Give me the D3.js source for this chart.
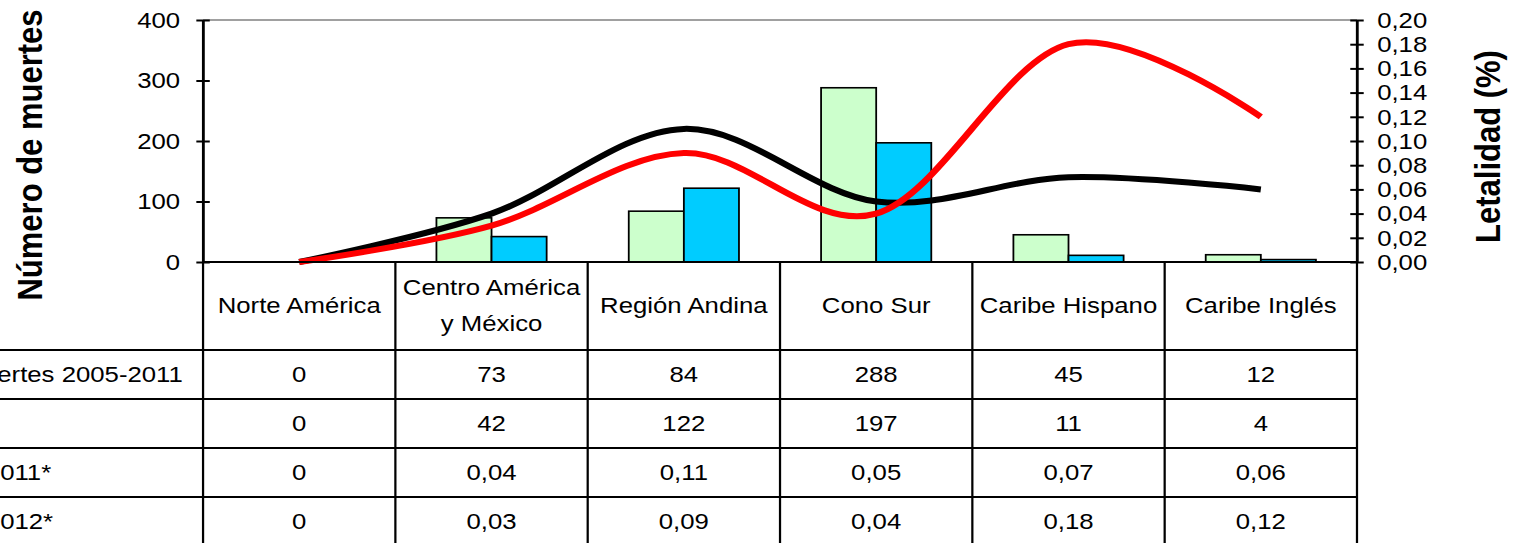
<!DOCTYPE html>
<html>
<head>
<meta charset="utf-8">
<script src="https://cdn.jsdelivr.net/npm/d3@7"></script>
<style>
  body { margin: 0; background: #fff; }
  svg { display: block; }
  text { font-family: "Liberation Sans", Arial, sans-serif; fill: #000; }
</style>
</head>
<body>
<svg id="chart"></svg>
<script>
// data
const regions = ["Norte América", "Centro América\ny México", "Región Andina", "Cono Sur", "Caribe Hispano", "Caribe Inglés"];
const muertes0511 = [0, 73, 84, 288, 45, 12];
const muertes2012 = [0, 42, 122, 197, 11, 4];
const letalidad2011 = [0, 0.04, 0.11, 0.05, 0.07, 0.06];
const letalidad2012 = [0, 0.03, 0.09, 0.04, 0.18, 0.12];
const rowLabels = ["Número de muertes 2005-2011", "Muertes 2012", "Letalidad (%) 2011*", "Letalidad (%) 2012*"];
const leftTicks = [0, 100, 200, 300, 400];
const rightTicks = [0, 0.02, 0.04, 0.06, 0.08, 0.10, 0.12, 0.14, 0.16, 0.18, 0.20];

class ComboTable {
    // the original is a bit wider than it is tall, so draw in a squeezed box and stretch
    sx = 1.12;
    margin = { top: 20, left: 181.3 };

    constructor(svg, width = 1514, height = 543) {
        this.svg = svg;
        this.width = width;
        this.height = height;
        this.plotW = 1211.6 - this.margin.left;
        this.plotH = 242;
    }

    initialize() {
        this.svg = d3.select(this.svg)
            .attr("width", this.width)
            .attr("height", this.height)
            .attr("viewBox", `0 0 ${this.width / this.sx} ${this.height}`)
            .attr("preserveAspectRatio", "none");

        this.container = this.svg.append("g")
            .attr("transform", `translate(${this.margin.left}, ${this.margin.top})`);

        this.xScale = d3.scaleBand().domain(regions).range([0, this.plotW]);
        this.subScale = d3.scaleBand().domain([0, 1]).range([0, this.xScale.bandwidth()])
            .paddingInner(0).paddingOuter(0.745);
        this.yScale = d3.scaleLinear().domain([0, 400]).range([this.plotH, 0]);
        this.y2Scale = d3.scaleLinear().domain([0, 0.2]).range([this.plotH, 0]);
    }

    fmt(v) {
        return v === 0 ? "0" : d3.format(".2f")(v).replace(".", ",");
    }

    update() {
        const g = this.container;

        // grey top border of the plot area
        g.append("line")
            .attr("x1", 0).attr("x2", this.plotW)
            .attr("y1", 0).attr("y2", 0)
            .attr("stroke", "#808080").attr("stroke-width", 1.5);

        // bars
        const series = [
            { values: muertes0511, fill: "#ccffcc" },
            { values: muertes2012, fill: "#00ccff" }
        ];
        series.forEach((s, i) => {
            g.append("g").selectAll("rect")
                .data(s.values)
                .join("rect")
                .attr("x", (d, j) => this.xScale(regions[j]) + this.subScale(i))
                .attr("y", d => this.yScale(d))
                .attr("width", this.subScale.bandwidth())
                .attr("height", d => this.plotH - this.yScale(d))
                .attr("fill", s.fill)
                .attr("stroke", "#000")
                .attr("stroke-width", 1.6);
        });

        // smoothed lines on the right axis
        const line = d3.line()
            .x((d, j) => this.xScale(regions[j]) + this.xScale.bandwidth() / 2)
            .y(d => this.y2Scale(d))
            .curve(d3.curveCardinal.tension(0));

        [[letalidad2011, "#000"], [letalidad2012, "#ff0000"]].forEach(([vals, col]) => {
            g.append("path")
                .datum(vals)
                .attr("d", line)
                .attr("fill", "none")
                .attr("stroke", col)
                .attr("stroke-width", 6)
                .attr("stroke-linejoin", "round");
        });

        // left axis, crossing ticks
        const yAxis = g.append("g")
            .call(d3.axisLeft(this.yScale).tickValues(leftTicks).tickSizeOuter(0).tickSizeInner(6).tickPadding(14.5));
        yAxis.select(".domain").attr("stroke-width", 2);
        yAxis.selectAll(".tick line").attr("x2", -6).attr("x1", 6).attr("stroke-width", 2);
        yAxis.selectAll(".tick text").attr("font-size", 23).attr("font-family", null);

        // right axis
        const y2Axis = g.append("g")
            .attr("transform", `translate(${this.plotW}, 0)`)
            .call(d3.axisRight(this.y2Scale).tickValues(rightTicks).tickFormat(d => d3.format(".2f")(d).replace(".", ","))
                .tickSizeOuter(0).tickSizeInner(6).tickPadding(12));
        y2Axis.select(".domain").attr("stroke-width", 2);
        y2Axis.selectAll(".tick line").attr("x1", -6).attr("x2", 6).attr("stroke-width", 2);
        y2Axis.selectAll(".tick text").attr("font-size", 23).attr("font-family", null);

        // axis titles
        this.svg.append("text")
            .attr("transform", `translate(37.5, 155) rotate(-90)`)
            .attr("text-anchor", "middle")
            .attr("font-size", 31).attr("font-weight", "bold")
            .text("Número de muertes");
        this.svg.append("text")
            .attr("transform", `translate(1339, 146.5) rotate(-90)`)
            .attr("text-anchor", "middle")
            .attr("font-size", 31).attr("font-weight", "bold")
            .text("Letalidad (%)");

        this.drawTable();
    }

    drawTable() {
        const g = this.container;
        const top = this.plotH;             // x axis = top of the table
        const headH = 88;
        const rowY = d3.scaleBand().domain(rowLabels).range([top + headH, top + headH + 49 * rowLabels.length]);
        const bottom = top + headH + 49 * rowLabels.length;
        const lines = g.append("g").attr("stroke", "#000").attr("stroke-width", 2);

        // x axis line / header top
        lines.append("line").attr("x1", 0).attr("x2", this.plotW).attr("y1", top).attr("y2", top);
        // row lines run out under the row labels
        rowLabels.forEach(r => {
            lines.append("line")
                .attr("x1", -this.margin.left - 10).attr("x2", this.plotW)
                .attr("y1", rowY(r)).attr("y2", rowY(r));
        });
        // column lines
        regions.concat(["end"]).forEach((r, i) => {
            const x = i < regions.length ? this.xScale(r) : this.plotW;
            lines.append("line")
                .attr("x1", x).attr("x2", x)
                .attr("y1", i === 0 || i === regions.length ? 0 : top)
                .attr("y2", bottom);
        });

        // header
        regions.forEach(r => {
            const parts = r.split("\n");
            const cx = this.xScale(r) + this.xScale.bandwidth() / 2;
            const t = g.append("text")
                .attr("text-anchor", "middle")
                .attr("font-size", 23)
                .attr("x", cx)
                .attr("y", parts.length === 1 ? top + 51 : top + 33);
            parts.forEach((p, k) => {
                t.append("tspan").attr("x", cx).attr("dy", k === 0 ? 0 : 36).text(p);
            });
        });

        // body
        const rows = [muertes0511, muertes2012, letalidad2011, letalidad2012];
        rows.forEach((vals, i) => {
            const cy = rowY(rowLabels[i]) + rowY.bandwidth() / 2 + 8;
            g.append("text")
                .attr("x", -335.8)
                .attr("y", cy)
                .attr("font-size", 23)
                .text(rowLabels[i]);
            g.append("g").selectAll("text")
                .data(vals)
                .join("text")
                .attr("x", (d, j) => this.xScale(regions[j]) + this.xScale.bandwidth() / 2)
                .attr("y", cy)
                .attr("text-anchor", "middle")
                .attr("font-size", 23)
                .text(d => i < 2 ? d : this.fmt(d));
        });
    }
}

const chart = new ComboTable(document.getElementById("chart"));
chart.initialize();
chart.update();
</script>
</body>
</html>
